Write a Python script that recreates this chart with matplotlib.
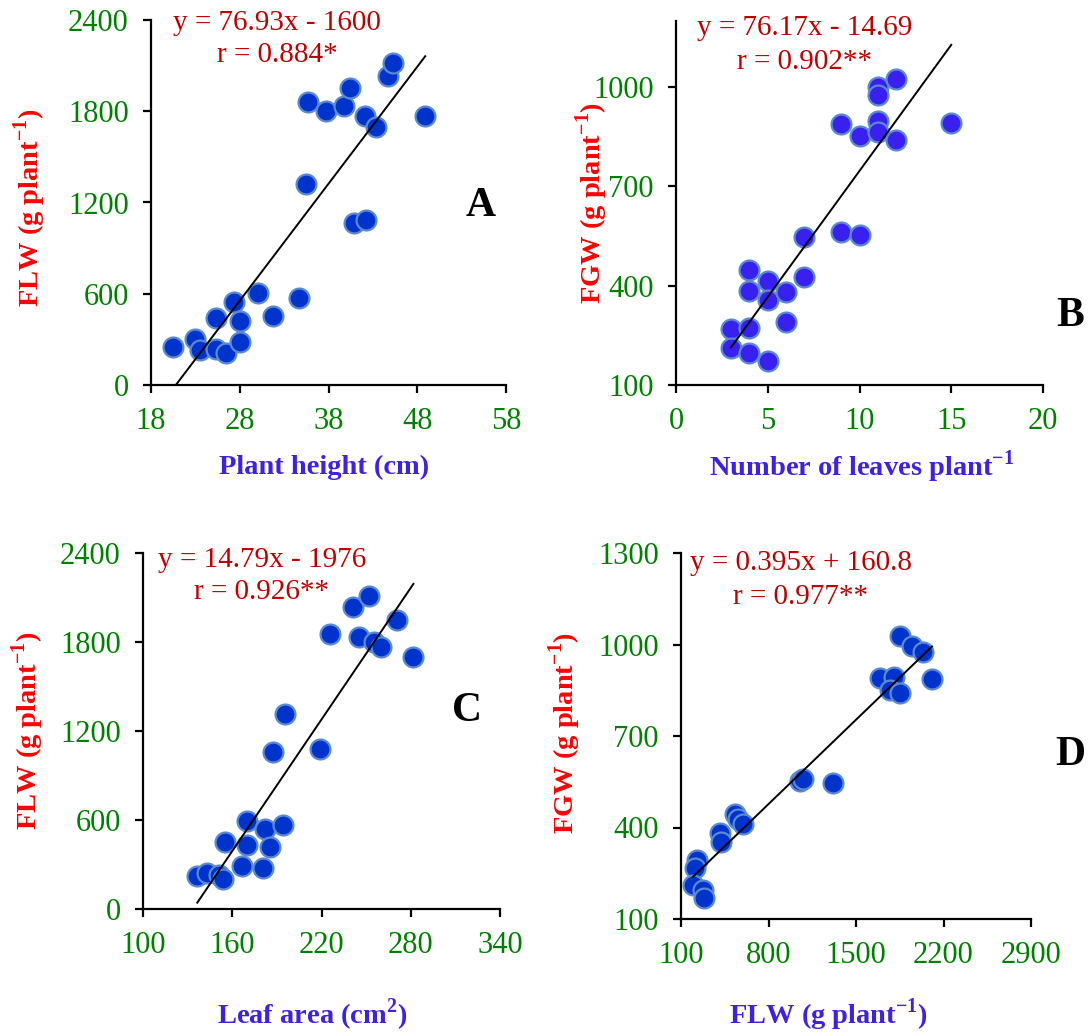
import matplotlib
matplotlib.use('Agg')
import matplotlib.pyplot as plt
import numpy as np

plt.rcParams['font.family'] = ['Liberation Serif', 'DejaVu Serif']
plt.rcParams['mathtext.fontset'] = 'custom'
plt.rcParams['mathtext.rm'] = 'Liberation Serif'
plt.rcParams['mathtext.bf'] = 'Liberation Serif:bold'

# plant height (cm) vs FLW
height_cm = [20.5, 23.0, 23.5, 25.3, 26.5, 25.3, 27.4, 28.0, 28.0, 30.0, 31.7, 34.7,
             35.5, 35.7, 37.7, 39.8, 40.4, 40.9, 42.2, 42.1, 43.4, 44.7, 45.3, 48.9]
flw_a = [248, 300, 230, 235, 213, 438, 544, 423, 280, 603, 454, 570,
         1322, 1859, 1804, 1834, 1955, 1063, 1085, 1771, 1699, 2032, 2115, 1771]

# number of leaves vs FGW
leaves = [3, 3, 4, 4, 4, 4, 5, 5, 5, 6, 6, 7, 7, 9, 10, 9, 10, 11, 11, 11, 11, 12, 12, 15]
fgw_b = [268, 211, 271, 198, 447, 385, 172, 415, 358, 382, 291, 547, 425, 561, 552,
         889, 852, 1000, 975, 897, 866, 1025, 839, 891]

# leaf area (cm2) vs FLW
leaf_area = [136.5, 143.2, 151.2, 153.9, 154.9, 166.5, 169.9, 169.9, 180.6, 182.2, 185.5,
             194.0, 187.3, 195.6, 219.1, 225.4, 241.5, 252.0, 245.3, 255.6, 259.9, 270.6, 281.8]
flw_c = [224, 245, 231, 204, 449, 292, 595, 434, 276, 539, 418,
         564, 1061, 1317, 1081, 1856, 2034, 2112, 1834, 1798, 1766, 1950, 1699]

# FLW vs FGW
flw_d = [226, 212, 196, 276, 284, 412, 420, 532, 559, 599, 1053, 1079, 1312,
         1854, 1948, 2036, 1694, 1800, 1768, 1848, 2108]
fgw_d = [294, 268, 213, 196, 169, 382, 352, 445, 428, 413, 551, 558, 546,
         1027, 996, 974, 890, 895, 850, 841, 887]

slopes = [76.93, 76.17, 14.79, 0.395]
intercepts = [-1600, -14.69, -1976, 160.8]
eq_labels = ['y = 76.93x - 1600', 'y = 76.17x - 14.69', 'y = 14.79x - 1976', 'y = 0.395x + 160.8']
r_labels = ['r = 0.884*', 'r = 0.902**', 'r = 0.926**', 'r = 0.977**']
panel_letters = ['A', 'B', 'C', 'D']

xlims = [(18, 58), (0, 20), (100, 340), (100, 2900)]
ylims = [(0, 2400), (100, 1200), (0, 2400), (100, 1300)]
xticks = [[18, 28, 38, 48, 58], [0, 5, 10, 15, 20], [100, 160, 220, 280, 340], [100, 800, 1500, 2200, 2900]]
yticks = [[0, 600, 1200, 1800, 2400], [100, 400, 700, 1000], [0, 600, 1200, 1800, 2400], [100, 400, 700, 1000, 1300]]
sup = r'$^{\mathbf{-1}}$'
xlabels = ['Plant height (cm)', 'Number of leaves plant' + sup,
           r'Leaf area (cm$^{\mathbf{2}}$)', 'FLW (g plant' + sup + ')']
ylabels = ['FLW (g plant' + sup + ')', 'FGW (g plant' + sup + ')',
           'FLW (g plant' + sup + ')', 'FGW (g plant' + sup + ')']

W, H = 1089, 1033
# axes boxes in pixels: left, top, right, bottom
boxes = [(151, 20, 506, 385), (676, 21, 1043, 385), (143, 553, 500, 909), (681, 553, 1031, 919)]
xlabel_pos = [(324, 467), (862, 467), (312, 1015), (828, 1015)]
ylabel_pos = [(30, 208), (592, 203), (28, 731), (565, 733)]
eq_pos = [(277, 23, 55), (805, 28, 62), (262, 560, 592), (801, 563, 597)]
letter_pos = [(481, 206), (1070, 316), (467, 711), (1070, 755)]
fills = ['#0033cc', '#3a20ee', '#0033cc', '#0033cc']

xs = [height_cm, leaves, leaf_area, flw_d]
ys = [flw_a, fgw_b, flw_c, fgw_d]

fig = plt.figure(figsize=(W / 100, H / 100), dpi=100)

for i in range(4):
    l, t, r, b = boxes[i]
    ax = fig.add_axes([l / W, 1 - b / H, (r - l) / W, (b - t) / H])
    x = np.array(xs[i])
    y = np.array(ys[i])
    ax.scatter(x, y, s=205, color=fills[i], edgecolors='#5b8ad0', linewidths=1.6, zorder=3)
    xx = np.array([x.min(), x.max()])
    ax.plot(xx, slopes[i] * xx + intercepts[i], color='black', lw=1.4, zorder=4)

    ax.set_xlim(xlims[i])
    ax.set_ylim(ylims[i])
    ax.set_xticks(xticks[i])
    ax.set_yticks(yticks[i])
    for side in ['top', 'right']:
        ax.spines[side].set_visible(False)
    for side in ['left', 'bottom']:
        ax.spines[side].set_linewidth(1.6)
    ax.tick_params(axis='both', direction='out', length=6, width=1.6,
                   labelsize=22, labelcolor='#008000')
    ax.tick_params(axis='x', pad=10)
    ax.tick_params(axis='y', pad=10)

    fig.text(xlabel_pos[i][0] / W, 1 - xlabel_pos[i][1] / H, xlabels[i], ha='center', va='center',
             fontsize=20.5, fontweight='bold', color='#3b22e6')
    fig.text(ylabel_pos[i][0] / W, 1 - ylabel_pos[i][1] / H, ylabels[i], ha='center', va='center',
             rotation=90, fontsize=20.5, fontweight='bold', color='#ff0000')

    ex, ey1, ey2 = eq_pos[i]
    fig.text(ex / W, 1 - ey1 / H, eq_labels[i], ha='center', va='center', fontsize=21, color='#c00000')
    fig.text(ex / W, 1 - ey2 / H, r_labels[i], ha='center', va='center', fontsize=21, color='#c00000')
    fig.text(letter_pos[i][0] / W, 1 - letter_pos[i][1] / H, panel_letters[i], ha='center', va='center',
             fontsize=30, fontweight='bold', color='black')

plt.savefig('out.png', dpi=100)
